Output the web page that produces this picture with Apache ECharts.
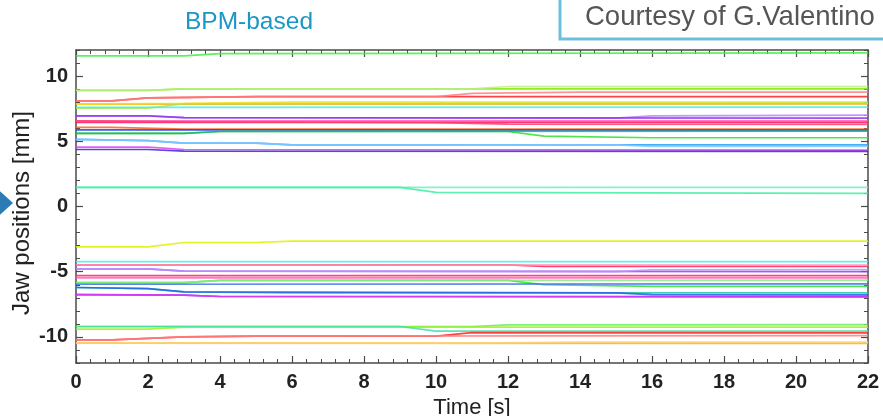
<!DOCTYPE html>
<html>
<head>
<meta charset="utf-8">
<script src="https://cdn.jsdelivr.net/npm/echarts@6/dist/echarts.min.js"></script>
<style>
html,body{margin:0;padding:0;background:#fff;}
#chart{width:883px;height:416px;}
</style>
</head>
<body>
<div id="chart"></div>
<script>
// ---- Data: breakpoints [time s, jaw position mm] ----
const xTicks = [0, 2, 4, 6, 8, 10, 12, 14, 16, 18, 20, 22];
const yTickLabels = [-10, -5, 0, 5, 10];

const jawTopGreen   = [[0,11.55],[3,11.55],[4,11.72],[22,11.78]];
const jawLimeA      = [[0,8.9],[2,8.9],[3,9.02],[22,9.02]];
const jawLimeB      = [[0,8.9],[2,8.9],[3,9.02],[11,9.02],[12,9.2],[22,9.2]];
const jawRedA       = [[0,8.1],[1,8.1],[2,8.33],[5,8.42],[22,8.42]];
const jawRedB       = [[0,8.1],[1,8.1],[2,8.33],[5,8.42],[10,8.42],[11,8.68],[14,8.77],[22,8.77]];
const jawOrange     = [[0,7.85],[22,7.87]];
const jawYellow     = [[0,7.85],[3,7.9],[6,8.0],[22,8.0]];
const jawYelGreen   = [[0,7.55],[2,7.55],[3,7.88],[22,7.9]];
const jawCyanUp     = [[0,7.6],[22,7.62]];
const jawPurpleA    = [[0,6.95],[2,6.95],[3,6.82],[15,6.77],[16,6.95],[22,7.0]];
const jawPurpleB    = [[0,6.95],[2,6.95],[3,6.82],[22,6.77]];
const jawPinkA      = [[0,6.57],[22,6.57]];
const jawPinkB      = [[0,6.45],[22,6.45]];
const jawPinkC      = [[0,6.57],[3,6.5],[10,6.42],[12,6.32],[22,6.3]];
const jawOrangeRed  = [[0,6.06],[1,6.06],[3,5.93],[22,5.93]];
const jawBlueUp     = [[0,5.88],[22,5.85]];
const jawGreenUpA   = [[0,5.6],[3,5.6],[4,5.75],[12,5.75],[13,5.4],[16,5.27],[22,5.27]];
const jawGreenUpB   = [[0,5.6],[3,5.6],[4,5.75],[22,5.78]];
const jawSkyA       = [[0,5.14],[2,5.05],[3,4.86],[5,4.86],[6,4.73],[22,4.73]];
const jawSkyB       = [[0,5.14],[2,5.05],[3,4.86],[5,4.86],[6,4.73],[15,4.73],[16,4.6],[22,4.6]];
const jawMagentaUp  = [[0,4.55],[2,4.55],[3,4.37],[22,4.32]];
const jawIndigoUp   = [[0,4.37],[2,4.37],[3,4.24],[22,4.22]];
const jawTealA      = [[0,1.46],[22,1.46]];
const jawTealB      = [[0,1.46],[9,1.46],[10,1.08],[22,1.0]];
const jawYellowLow  = [[0,-3.09],[2,-3.09],[3,-2.76],[5,-2.76],[6,-2.66],[22,-2.66]];
const jawCyanLow    = [[0,-4.22],[22,-4.22]];
const jawRedLowA    = [[0,-4.47],[12,-4.47],[13,-4.6],[22,-4.6]];
const jawPinkLowB   = [[0,-4.47],[22,-4.5]];
const jawPurpleLowA = [[0,-4.78],[2,-4.78],[3,-4.96],[22,-5.0]];
const jawPurpleLowB = [[0,-4.78],[2,-4.78],[3,-4.96],[15,-5.0],[16,-4.85],[22,-4.83]];
const jawRedPinkLow = [[0,-5.3],[22,-5.3]];
const jawPinkLow    = [[0,-5.47],[22,-5.47]];
const jawGreenLowA  = [[0,-5.83],[3,-5.83],[4,-5.67],[12,-5.67],[13,-6.0],[16,-6.13],[22,-6.13]];
const jawGreenLowB  = [[0,-5.83],[3,-5.83],[4,-5.67],[22,-5.65]];
const jawBlueLow    = [[0,-5.96],[22,-5.93]];
const jawTealLow    = [[0,-6.21],[2,-6.3],[3,-6.55],[6,-6.62],[22,-6.62]];
const jawBlueLowB   = [[0,-6.21],[2,-6.3],[3,-6.55],[15,-6.62],[16,-6.75],[22,-6.77]];
const jawVioletLow  = [[0,-6.75],[3,-6.8],[4,-6.9],[22,-6.9]];
const jawMagentaLow = [[0,-6.75],[3,-6.8],[4,-6.9],[22,-6.95]];
const jawGreenBotA  = [[0,-9.2],[11,-9.2],[12,-9.07],[22,-9.05]];
const jawLimeBot    = [[0,-9.4],[2,-9.4],[3,-9.25],[22,-9.25]];
const jawTealBot    = [[0,-9.2],[9,-9.2],[10,-9.55],[22,-9.56]];
const jawRedBotA    = [[0,-10.22],[1,-10.22],[3,-10.0],[5,-9.94],[10,-9.94],[11,-9.67],[22,-9.69]];
const jawRedBotB    = [[0,-10.22],[1,-10.22],[3,-10.0],[5,-9.94],[22,-9.9]];
const jawOrangeBotA = [[0,-10.48],[22,-10.5]];
const jawOrangeBotB = [[0,-10.48],[11,-10.48],[14,-10.4],[22,-10.4]];

// ---- Styling (kept apart from the data) ----
const lines = [
  [jawTopGreen,'#40f040'],[jawLimeA,'#80e800'],[jawLimeB,'#b8f080'],
  [jawRedA,'#ff2020'],[jawRedB,'#ff8080'],[jawOrange,'#ffa020'],
  [jawYellow,'#f0e020'],[jawYelGreen,'#b0e830'],[jawCyanUp,'#40f0f0'],
  [jawPurpleA,'#c080ff'],[jawPurpleB,'#9030f0'],[jawPinkA,'#ff60b0'],
  [jawPinkB,'#ff1060'],[jawPinkC,'#ff4070'],[jawOrangeRed,'#ff6020'],
  [jawBlueUp,'#2040f0'],[jawGreenUpA,'#30e030'],[jawGreenUpB,'#20b070'],
  [jawSkyA,'#20a0ff'],[jawSkyB,'#80c8ff'],[jawMagentaUp,'#e040f0'],
  [jawIndigoUp,'#4020e0'],[jawTealA,'#70f0c0'],[jawTealB,'#40f0a0'],
  [jawYellowLow,'#e0f000'],[jawCyanLow,'#40f0f0'],[jawRedLowA,'#ff2060'],
  [jawPinkLowB,'#ff90b0'],[jawPurpleLowA,'#9040f0'],[jawPurpleLowB,'#c090ff'],
  [jawRedPinkLow,'#ff2070'],[jawPinkLow,'#ff60c0'],[jawGreenLowA,'#30e030'],
  [jawGreenLowB,'#80f080'],[jawBlueLow,'#4070f0'],[jawTealLow,'#20c8a0'],
  [jawBlueLowB,'#2060f0'],[jawVioletLow,'#8000ff'],[jawMagentaLow,'#e040f0'],
  [jawGreenBotA,'#60f060'],[jawLimeBot,'#a0f020'],[jawTealBot,'#40e0a0'],
  [jawRedBotA,'#ff2020'],[jawRedBotB,'#ff8080'],[jawOrangeBotA,'#ffb020'],
  [jawOrangeBotB,'#ffd070']
];

const FONT = '"Liberation Sans", Arial, Helvetica, sans-serif';
const AX = '#4a4a4a';

const chart = echarts.init(document.getElementById('chart'), null, {renderer:'canvas'});

function xAxisCfg(pos, showLabels) {
  return {
    type:'value', position:pos, min:xTicks[0], max:xTicks[xTicks.length-1], interval:2,
    name: showLabels ? 'Time [s]' : '', nameLocation:'middle', nameGap:33,
    nameTextStyle:{fontFamily:FONT, fontSize:22, color:'#222'},
    axisLine:{show:true, onZero:false, lineStyle:{color:AX, width:1.5}},
    axisTick:{show:true, inside:true, length:7, lineStyle:{color:AX, width:1.2}},
    minorTick:{show:true, splitNumber:5, length:4, lineStyle:{color:AX, width:1}},
    axisLabel:{show:showLabels, margin:9, fontFamily:FONT, fontSize:20, fontWeight:'bold', color:'#222'},
    splitLine:{show:false}
  };
}
function yAxisMinor(pos, showLabels) {
  return {
    type:'value', position:pos, min:-12, max:12, interval:1,
    axisLine:{show:true, onZero:false, lineStyle:{color:AX, width:1.5}},
    axisTick:{show:true, inside:true, length:4, lineStyle:{color:AX, width:1}},
    axisLabel:{show:showLabels, customValues:yTickLabels, margin:8, fontFamily:FONT, fontSize:20, fontWeight:'bold', color:'#222'},
    splitLine:{show:false}
  };
}
function yAxisMajor(pos) {
  return {
    type:'value', position:pos, min:-12, max:12, interval:1,
    axisLine:{show:false, onZero:false},
    axisTick:{show:true, inside:true, length:7, customValues:yTickLabels, lineStyle:{color:AX, width:1.2}},
    axisLabel:{show:false},
    splitLine:{show:false}
  };
}

const series = lines.map(([d, c]) => ({
  type:'line', data:d, xAxisIndex:0, yAxisIndex:0,
  showSymbol:false, symbol:'none', smooth:false, silent:true,
  lineStyle:{color:c, width:1.7, opacity:0.85}
}));

chart.setOption({
  animation:false,
  backgroundColor:'#fff',
  grid:{left:76, top:50, width:792, height:313, containLabel:false, outerBoundsMode:'none'},
  xAxis:[xAxisCfg('bottom', true), xAxisCfg('top', false)],
  yAxis:[yAxisMinor('left', true), yAxisMajor('left'), yAxisMinor('right', false), yAxisMajor('right')],
  series: series,
  graphic:[
    {type:'text', style:{text:'BPM-based', x:249, y:22, align:'center', verticalAlign:'middle',
      font:'24.5px ' + FONT, fill:'#1b97c4'}},
    {type:'rect', shape:{x:560, y:-10, width:340, height:49}, style:{fill:'#fff', stroke:'#6cbfdc', lineWidth:3}},
    {type:'text', style:{text:'Courtesy of G.Valentino', x:585, y:17, align:'left', verticalAlign:'middle',
      font:'27.5px ' + FONT, fill:'#555'}},
    {type:'text', rotation:Math.PI/2, x:22, y:213, style:{text:'Jaw positions [mm]', x:0, y:0, align:'center', verticalAlign:'middle',
      font:'24px ' + FONT, fill:'#222'}},
    {type:'polygon', shape:{points:[[-6,186],[13,203],[-6,220]]}, style:{fill:'#2b7bb5'}}
  ]
});
</script>
</body>
</html>
